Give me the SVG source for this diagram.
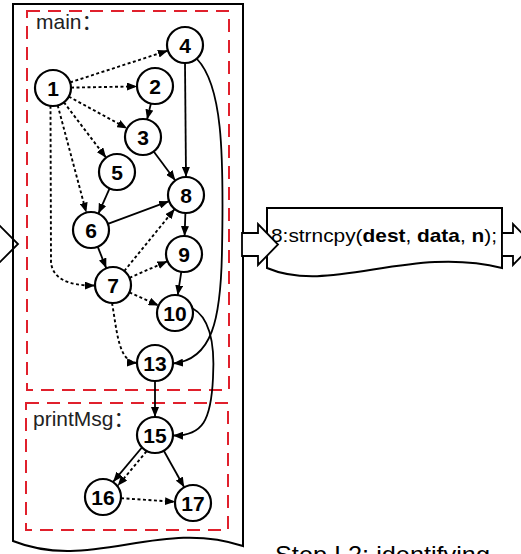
<svg xmlns="http://www.w3.org/2000/svg" width="521" height="554" viewBox="0 0 521 554">
<style>
.doc{fill:#fff;stroke:#000;stroke-width:2}
.blk{fill:#fff;stroke:#000;stroke-width:1.8;stroke-linejoin:miter}
.grp{fill:none;stroke:#e0202c;stroke-width:2;stroke-dasharray:13,8}
.lbl{font-family:"Liberation Sans","Noto Sans CJK SC",sans-serif;font-size:21px;fill:#222}
.node circle{fill:#fff;stroke:#000;stroke-width:2.2}
.node text{font-family:"Liberation Sans",Arial,sans-serif;font-size:21px;font-weight:bold;fill:#000;text-anchor:middle}
.e{fill:none;stroke:#000;stroke-width:1.8;marker-end:url(#ah)}
.d{stroke-dasharray:3,2.5;stroke-width:1.9}
.code{font-family:"Liberation Sans",Arial,sans-serif;font-size:19px;fill:#000}
.step{font-family:"Liberation Sans",Arial,sans-serif;font-size:24px;fill:#000}
</style>
<defs>
<marker id="ah" viewBox="0 0 10 8" refX="10" refY="4" markerWidth="10" markerHeight="8" markerUnits="userSpaceOnUse" orient="auto">
<path d="M0,0 L10,4 L0,8 Z" fill="#000"/>
</marker>
</defs>
<rect width="521" height="554" fill="#fff"/>

<g id="in-arrow"><polygon class="blk" points="-20,233 -2,233 -2,224 18,244 -2,264 -2,256 -20,256"/></g>

<g id="doc-main">
<path class="doc" style="fill:none" d="M13,541 L13,4 L243,4 L243,546 C160,518 90,572 13,541 Z"/>
<rect class="grp" x="27" y="11" width="202" height="379"/>
<text class="lbl" x="36" y="29">main：</text>
<rect class="grp" x="26" y="403" width="202" height="127"/>
<text class="lbl" x="33" y="426">printMsg：</text>
</g>

<g id="doc-slice">
<path class="doc" d="M267,268 L267,208 L502,208 L502,268 C410,245 330,295 267,268 Z"/>
<text class="code" x="271" y="242" textLength="226" lengthAdjust="spacingAndGlyphs">8:strncpy(<tspan font-weight="bold">dest</tspan>, <tspan font-weight="bold">data</tspan>, <tspan font-weight="bold">n</tspan>);</text>
</g>
<g id="mid-arrow"><polygon class="blk" points="242,233 258,233 258,224 278,244.5 258,265 258,256 242,256"/></g>
<g id="out-arrow"><polygon class="blk" points="502,233 513,233 513,224 533,244.5 513,265 513,256 502,256"/></g>

<g id="edges">
<path class="e d" d="M70.1,82.4 L167.9,50.6"/>
<path class="e d" d="M71,87.6 L137,86.4"/>
<path class="e d" d="M68.8,96.6 L127.2,128.4"/>
<path class="e d" d="M63.9,102.3 L106.1,157.7"/>
<path class="e d" d="M57.7,105.4 L86.3,212.6"/>
<path class="e d" d="M50.5,105.8 L51,262 Q53,286 95,285.5"/>
<path class="e" d="M150.9,103.5 L147.1,119.5"/>
<path class="e" d="M153.7,151.5 L175.3,180.5"/>
<path class="e" d="M185,63 L186,177"/>
<path class="e" d="M109.6,188.4 L98.4,213.6"/>
<path class="e" d="M107.9,223.8 L169.1,201.2"/>
<path class="e" d="M97.7,246.7 L106.3,268.3"/>
<path class="e d" d="M124.3,271 L174.7,209"/>
<path class="e d" d="M129.5,277.8 L167.5,261.2"/>
<path class="e d" d="M129.4,292.4 L158.6,305.6"/>
<path class="e" d="M185.4,213 L184.6,236"/>
<path class="e" d="M181.3,271.8 L177.7,295.2"/>
<path class="e d" d="M112,303 C117,330 118,362 137,363"/>
<path class="e" d="M197,59 C222,85 224,150 222,250 C221,320 212,360 173,363.5"/>
<path class="e" d="M192,308 C211,318 215,345 213,378 C211,420 203,436 173,435.5"/>
<path class="e" d="M155,381 L155,417"/>
<path class="e" d="M141.9,447.5 L113.1,481.9"/>
<path class="e d" d="M146.5,451.4 L117.7,485.8"/>
<path class="e" d="M163.8,450.7 L184.2,487.3"/>
<path class="e d" d="M121,498.2 L175,501.8"/>
</g>

<g id="n1" class="node"><circle cx="53" cy="88" r="18"/><text x="53" y="95.5">1</text></g>
<g id="n2" class="node"><circle cx="155" cy="86" r="18"/><text x="155" y="93.5">2</text></g>
<g id="n3" class="node"><circle cx="143" cy="137" r="18"/><text x="143" y="144.5">3</text></g>
<g id="n4" class="node"><circle cx="185" cy="45" r="18"/><text x="185" y="52.5">4</text></g>
<g id="n5" class="node"><circle cx="117" cy="172" r="18"/><text x="117" y="179.5">5</text></g>
<g id="n6" class="node"><circle cx="91" cy="230" r="18"/><text x="91" y="237.5">6</text></g>
<g id="n7" class="node"><circle cx="113" cy="285" r="18"/><text x="113" y="292.5">7</text></g>
<g id="n8" class="node"><circle cx="186" cy="195" r="18"/><text x="186" y="202.5">8</text></g>
<g id="n9" class="node"><circle cx="184" cy="254" r="18"/><text x="184" y="261.5">9</text></g>
<g id="n10" class="node"><circle cx="175" cy="313" r="18"/><text x="175" y="320.5">10</text></g>
<g id="n13" class="node"><circle cx="155" cy="363" r="18"/><text x="155" y="370.5">13</text></g>
<g id="n15" class="node"><circle cx="155" cy="435" r="18"/><text x="155" y="442.5">15</text></g>
<g id="n16" class="node"><circle cx="103" cy="497" r="18"/><text x="103" y="504.5">16</text></g>
<g id="n17" class="node"><circle cx="193" cy="503" r="18"/><text x="193" y="510.5">17</text></g>

<text class="step" x="275" y="563" textLength="215" lengthAdjust="spacingAndGlyphs">Step I 2: identifying</text>
</svg>
